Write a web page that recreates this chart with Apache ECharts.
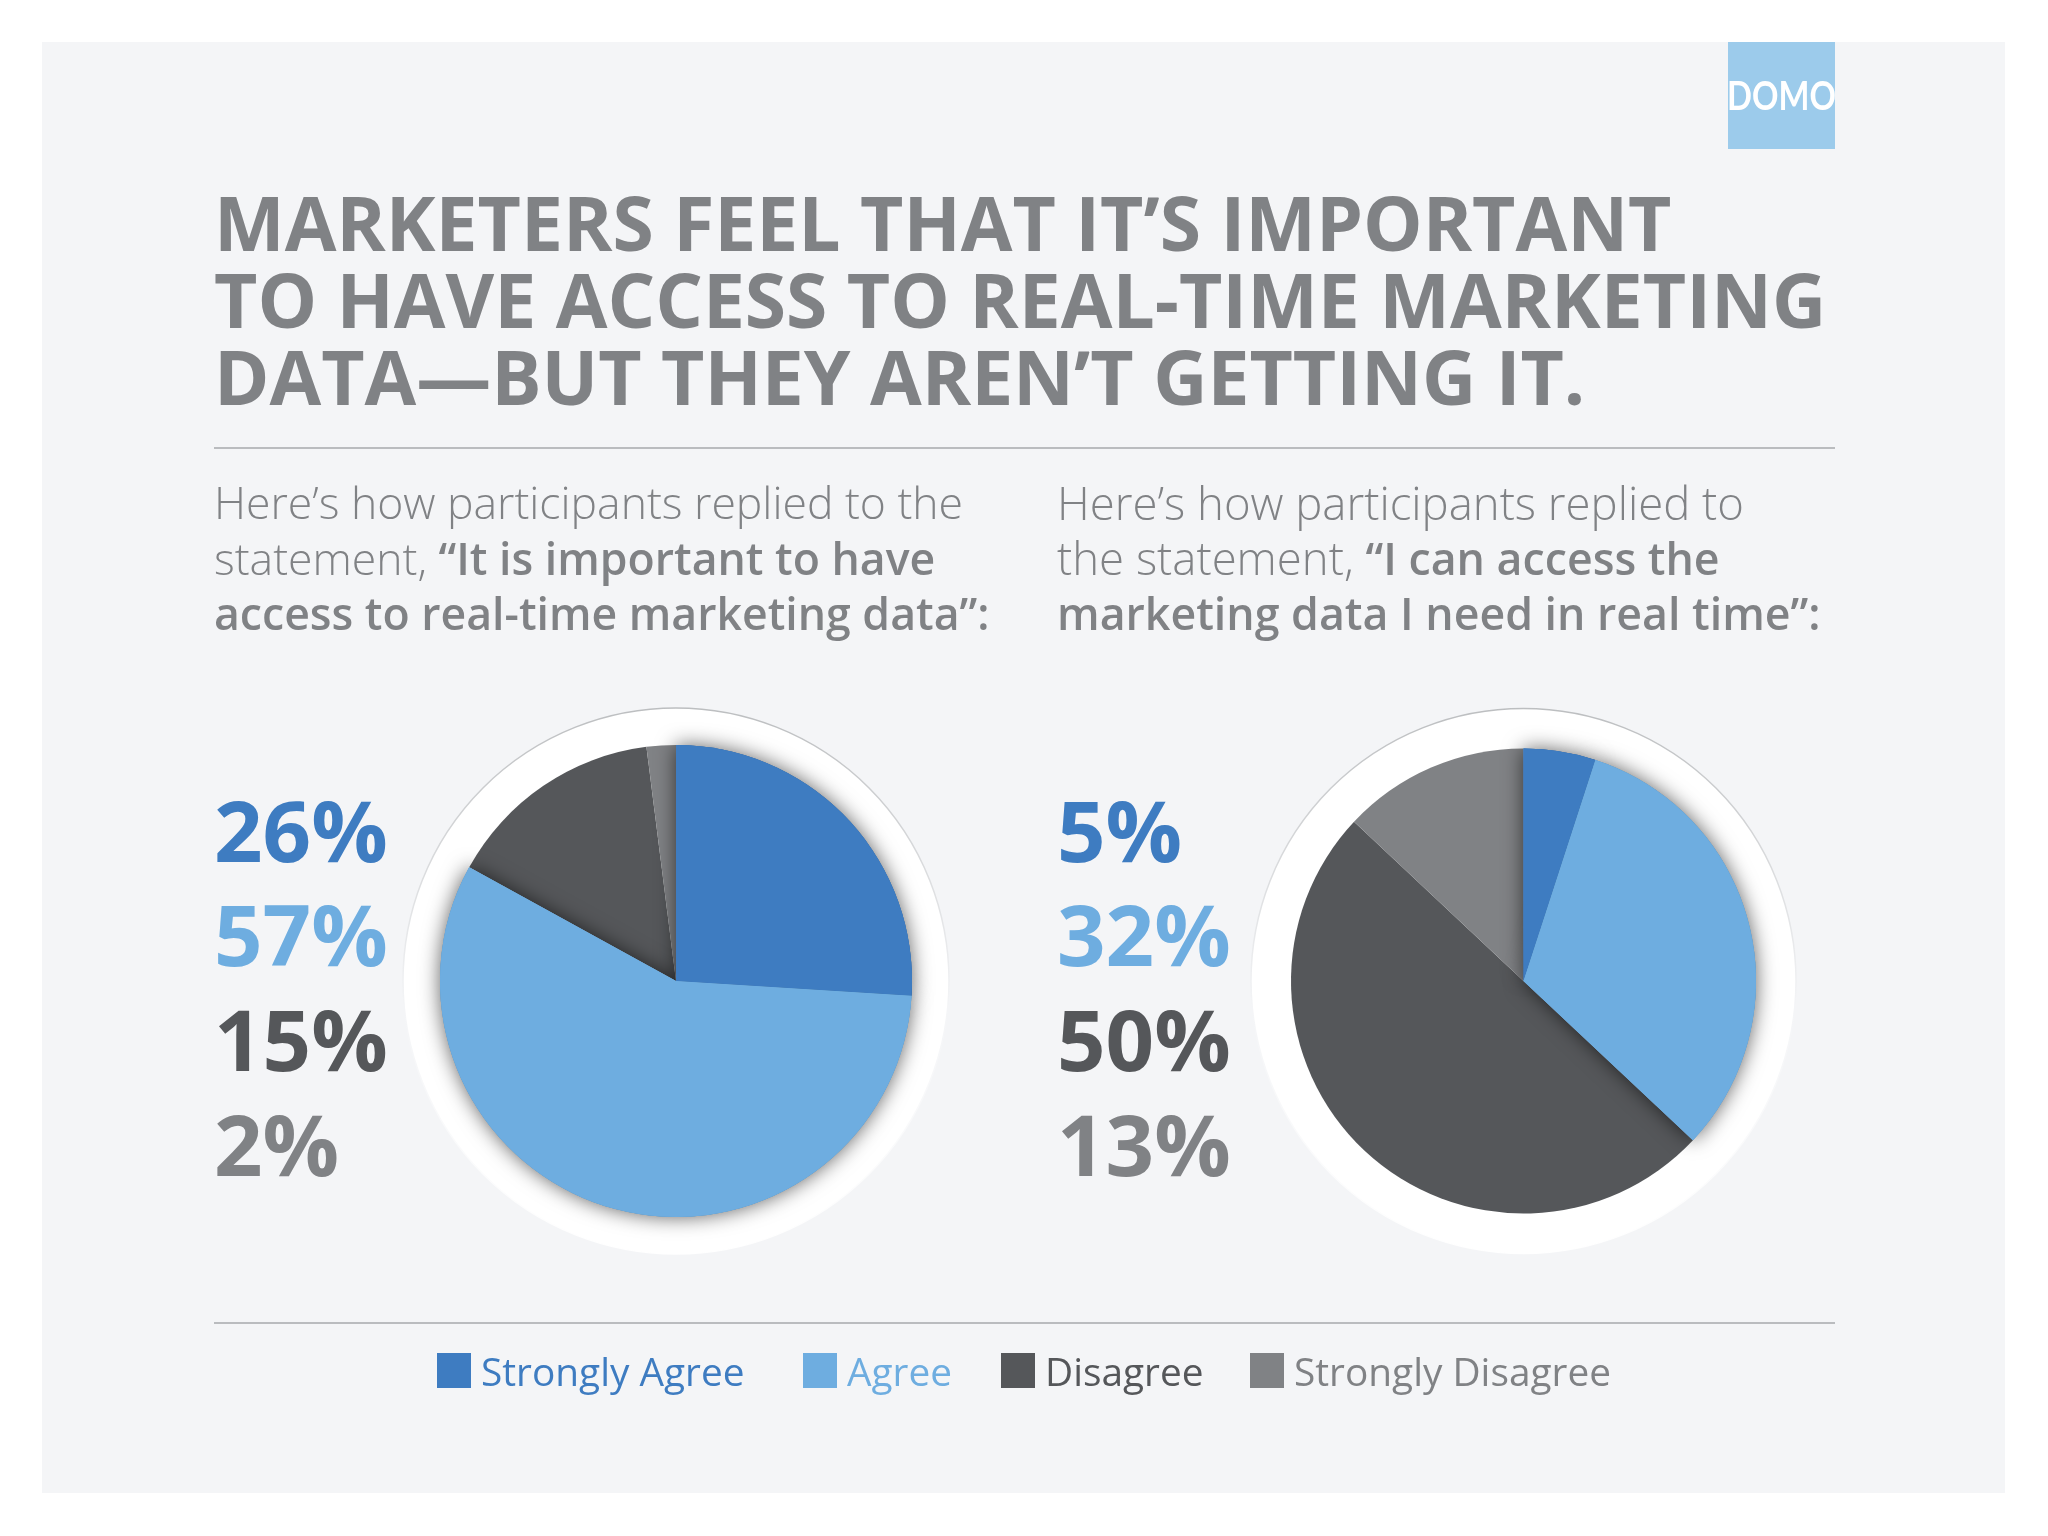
<!DOCTYPE html>
<html>
<head>
<meta charset="utf-8">
<title>Real-time marketing data</title>
<script src="https://cdn.jsdelivr.net/npm/echarts@6/dist/echarts.min.js"></script>
<style>
  * { margin: 0; padding: 0; }
  body { background: #fff; }
  #main { width: 2048px; height: 1536px; }
</style>
</head>
<body>
<div id="main"></div>
<script>
var categories = ['Strongly Agree', 'Agree', 'Disagree', 'Strongly Disagree'];
var importantValues = [26, 57, 15, 2];
var accessValues = [5, 32, 50, 13];
var colors = ['#3e7cc1', '#6eade0', '#55575a', '#808285'];
var titleLines = [
  'MARKETERS FEEL THAT IT\u2019S IMPORTANT',
  'TO HAVE ACCESS TO REAL-TIME MARKETING',
  'DATA\u2014BUT THEY AREN\u2019T GETTING IT.'
];
var leftIntro = '{l|Here\u2019s how participants replied to the}\n{l|statement, }{b|\u201cIt is important to have}\n{b|access to real-time marketing data\u201d:}';
var rightIntro = '{l|Here\u2019s how participants replied to}\n{l|the statement, }{b|\u201cI can access the}\n{b|marketing data I need in real time\u201d:}';

var FONT = '"Open Sans", sans-serif';
var myChart = echarts.init(document.getElementById('main'));

function introText(x, text, lightSize, boldSize) {
  return {
    type: 'text', x: x, y: 479, z: 5,
    style: {
      text: text, fontFamily: FONT, lineHeight: 55.5,
      rich: {
        l: { fontFamily: FONT, fontSize: lightSize, fontWeight: 300, fill: '#808285', lineHeight: 55.5 },
        b: { fontFamily: FONT, fontSize: boldSize, fontWeight: 600, fill: '#808285', lineHeight: 55.5 }
      }
    }
  };
}

function percentLabels(x, values) {
  return values.map(function (v, i) {
    return {
      type: 'text', x: x, y: 795 + i * 104.6, z: 5,
      style: { text: v + '%', fontFamily: FONT, fontSize: 85, fontWeight: 700, fill: colors[i] }
    };
  });
}

function disk(cx, cy, r) {
  return {
    type: 'circle', z: 0, silent: true,
    shape: { cx: cx, cy: cy, r: r },
    style: {
      fill: '#fff', lineWidth: 1.5,
      stroke: new echarts.graphic.LinearGradient(0, 0, 0, 1, [
        { offset: 0, color: '#bcbec0' },
        { offset: 0.55, color: '#f4f5f7' },
        { offset: 1, color: '#ffffff' }
      ])
    }
  };
}

// three layers: all slices flat, then the two agree slices with a shadow, then the same two clean
function pieLayers(center, radius, values) {
  function layer(z, styleFor) {
    return {
      type: 'pie', center: center, radius: radius, startAngle: 90, silent: true,
      label: { show: false }, labelLine: { show: false }, animation: false, z: z,
      data: categories.map(function (name, i) {
        return { name: name, value: values[i], itemStyle: styleFor(i) };
      })
    };
  }
  return [
    layer(3, function (i) { return { color: colors[i] }; }),
    layer(4, function (i) {
      return i < 2
        ? { color: colors[i], shadowBlur: 20, shadowColor: 'rgba(0,0,0,0.62)' }
        : { color: 'transparent' };
    }),
    layer(5, function (i) { return { color: i < 2 ? colors[i] : 'transparent' }; })
  ];
}

var legendLefts = [437, 803, 1001, 1250];
var graphics = [
  { type: 'rect', z: 0, shape: { x: 42, y: 42, width: 1963, height: 1451 }, style: { fill: '#f4f5f7' } },
  { type: 'rect', z: 1, shape: { x: 1728, y: 42, width: 107, height: 107 }, style: { fill: '#9ccbeb' } },
  {
    type: 'text', x: 1781.5, y: 97, z: 2, scaleX: 0.8,
    style: { text: 'DOMO', fontFamily: 'Lato, sans-serif', fontSize: 41, fontWeight: 700, fill: '#fff', textAlign: 'center', textVerticalAlign: 'middle' }
  },
  { type: 'line', shape: { x1: 214, y1: 448, x2: 1835, y2: 448 }, style: { stroke: '#a7a9ac', lineWidth: 1.5 } },
  { type: 'line', shape: { x1: 214, y1: 1323, x2: 1835, y2: 1323 }, style: { stroke: '#a7a9ac', lineWidth: 1.5 } },
  introText(214, leftIntro, 44.5, 44.6),
  introText(1057, rightIntro, 45.5, 44.7),
  disk(676, 981, 273),
  disk(1523.5, 981, 272.5)
];
titleLines.forEach(function (line, i) {
  graphics.push({
    type: 'text', x: 214, y: 191 + i * 77, z: 5, scaleX: 0.986,
    style: { text: line, fontFamily: FONT, fontSize: 76, fontWeight: 700, fill: '#808285' }
  });
});
graphics = graphics.concat(percentLabels(214, importantValues), percentLabels(1057, accessValues));

var option = {
  animation: false,
  graphic: { elements: graphics },
  legend: categories.map(function (name, i) {
    return {
      left: legendLefts[i], top: 1353, padding: 0, selectedMode: false, icon: 'rect',
      itemWidth: 34, itemHeight: 35, itemGap: 0,
      data: [name],
      formatter: '{t|{name}}',
      textStyle: {
        rich: {
          t: { fontFamily: FONT, fontSize: 38.8, color: colors[i], padding: [8, 0, 0, 5] }
        }
      }
    };
  }),
  series: pieLayers([676, 981], 236, importantValues)
    .concat(pieLayers([1523.5, 981], 232.5, accessValues))
};
myChart.setOption(option);
</script>
</body>
</html>
